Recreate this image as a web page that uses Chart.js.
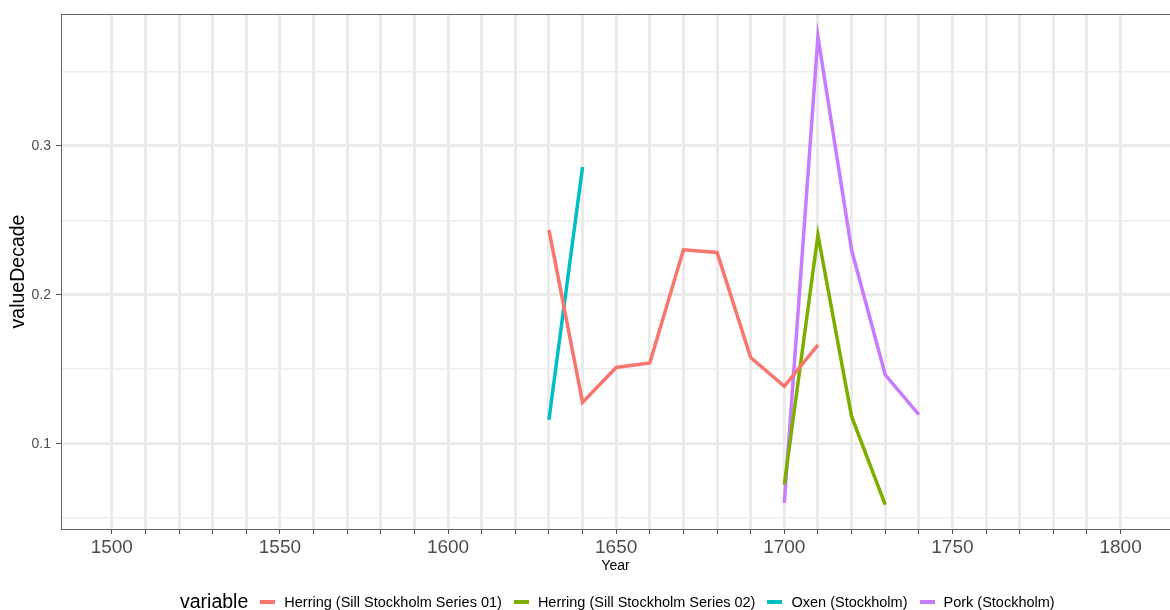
<!DOCTYPE html>
<html lang="en">
<head>
    <meta charset="UTF-8">
    <title>valueDecade</title>
    <style>
        body {
            margin: 0;
            padding: 0;
            background: #fff;
            font-family: 'Liberation Sans', Arial, sans-serif;
        }
        .wrap {
            position: relative;
            width: 1170px;
            height: 610px;
        }
        .legend {
            position: absolute;
            left: 180px;
            top: 590px;
            display: flex;
            align-items: center;
            white-space: nowrap;
            color: #000;
        }
        .legend .title {
            font-size: 19.5px;
            margin-right: 12px;
        }
        .legend .key {
            display: inline-block;
            width: 15px;
            height: 4px;
            margin-right: 9px;
        }
        .legend .item {
            font-size: 14.5px;
            margin-right: 12px;
        }
    </style>
</head>
<body>
    <div class="wrap">
        <canvas id="lineChart" width="1170" height="610"></canvas>
        <div class="legend" id="legend"></div>
    </div>
    <script src="https://cdn.jsdelivr.net/npm/chart.js"></script>
    <script>
        const decades = [1630, 1640, 1650, 1660, 1670, 1680, 1690, 1700, 1710, 1720, 1730, 1740];
        const herring01 = [0.2436, 0.1277, 0.1512, 0.1542, 0.2302, 0.2284, 0.1579, 0.1385, 0.1664, null, null, null];
        const herring02 = [null, null, null, null, null, null, null, 0.0725, 0.2403, 0.1183, 0.0591, null];
        const oxen = [0.1161, 0.2859, null, null, null, null, null, null, null, null, null, null];
        const pork = [null, null, null, null, null, null, null, 0.0602, 0.3734, 0.2302, 0.1463, 0.1195];

        const seriesNames = ['Herring (Sill Stockholm Series 01)', 'Herring (Sill Stockholm Series 02)', 'Oxen (Stockholm)', 'Pork (Stockholm)'];
        const seriesColors = ['#F8766D', '#7CAE00', '#00BFC4', '#C77CFF'];
        const seriesValues = [herring01, herring02, oxen, pork];

        const xTicks = [1500, 1510, 1520, 1530, 1540, 1550, 1560, 1570, 1580, 1590, 1600, 1610, 1620, 1630, 1640, 1650,
            1660, 1670, 1680, 1690, 1700, 1710, 1720, 1730, 1740, 1750, 1760, 1770, 1780, 1790, 1800];
        const xLabels = [1500, 1550, 1600, 1650, 1700, 1750, 1800];
        const yTicks = [0.05, 0.1, 0.15, 0.2, 0.25, 0.3, 0.35];
        const yLabels = [0.1, 0.2, 0.3];

        const isLabelY = v => yLabels.some(l => Math.abs(l - v) < 1e-6);

        function buildDatasets() {
            return seriesValues.map((vals, i) => ({
                label: seriesNames[i],
                data: decades.map((d, j) => vals[j] === null ? null : { x: d, y: vals[j] }).filter(p => p !== null),
                borderColor: seriesColors[i],
                backgroundColor: seriesColors[i],
                borderWidth: 3.5,
                pointRadius: 0,
                tension: 0,
                fill: false
            }));
        }

        const panelBorder = {
            id: 'panelBorder',
            afterDraw(chart) {
                const a = chart.chartArea;
                const ctx = chart.ctx;
                ctx.save();
                ctx.strokeStyle = '#666';
                ctx.lineWidth = 1;
                ctx.strokeRect(a.left + 0.5, a.top + 0.5, a.right - a.left + 5, a.bottom - a.top);
                ctx.restore();
            }
        };

        function createChart() {
            const ctx = document.getElementById('lineChart').getContext('2d');
            new Chart(ctx, {
                type: 'line',
                data: { datasets: buildDatasets() },
                options: {
                    responsive: false,
                    animation: false,
                    layout: { padding: { top: 14, right: 0, left: 0, bottom: 33 } },
                    plugins: {
                        legend: { display: false },
                        tooltip: { enabled: false }
                    },
                    scales: {
                        x: {
                            type: 'linear',
                            min: 1484.9,
                            max: 1814.7,
                            bounds: 'data',
                            afterBuildTicks: axis => { axis.ticks = xTicks.map(v => ({ value: v })); },
                            afterFit: axis => { axis.height = 48; },
                            border: { display: false },
                            grid: {
                                color: '#ebebeb',
                                lineWidth: 3,
                                drawTicks: true,
                                tickLength: 5,
                                tickColor: '#555',
                                tickWidth: 1
                            },
                            ticks: {
                                autoSkip: false,
                                maxRotation: 0,
                                padding: 2,
                                color: '#4d4d4d',
                                font: { family: "'Liberation Sans', Arial, sans-serif", size: 19 },
                                callback: v => xLabels.includes(v) ? String(v) : ''
                            },
                            title: {
                                display: true,
                                text: 'Year',
                                color: '#000',
                                padding: { top: 0, bottom: 2 },
                                font: { family: "'Liberation Sans', Arial, sans-serif", size: 14 }
                            }
                        },
                        y: {
                            type: 'linear',
                            min: 0.0427,
                            max: 0.3886,
                            bounds: 'data',
                            afterBuildTicks: axis => { axis.ticks = yTicks.map(v => ({ value: v })); },
                            afterFit: axis => { axis.width = 61; },
                            border: { display: false },
                            grid: {
                                color: '#ebebeb',
                                lineWidth: c => isLabelY(c.tick.value) ? 3 : 1.5,
                                drawTicks: true,
                                tickLength: 5,
                                tickColor: c => isLabelY(c.tick.value) ? '#555' : 'rgba(0,0,0,0)',
                                tickWidth: 1
                            },
                            ticks: {
                                autoSkip: false,
                                padding: 5,
                                color: '#4d4d4d',
                                font: { family: "'Liberation Sans', Arial, sans-serif", size: 14 },
                                callback: v => isLabelY(v) ? String(Math.round(v * 10) / 10) : ''
                            },
                            title: {
                                display: true,
                                text: 'valueDecade',
                                color: '#000',
                                padding: { top: 7, bottom: 0 },
                                font: { family: "'Liberation Sans', Arial, sans-serif", size: 19.5 }
                            }
                        }
                    }
                },
                plugins: [panelBorder]
            });
        }

        function buildLegend() {
            const box = document.getElementById('legend');
            let html = '<span class="title">variable</span>';
            seriesNames.forEach((name, i) => {
                html += `<span class="key" style="background:${seriesColors[i]}"></span><span class="item">${name}</span>`;
            });
            box.innerHTML = html;
        }

        document.addEventListener('DOMContentLoaded', () => {
            createChart();
            buildLegend();
        });
    </script>
</body>
</html>
